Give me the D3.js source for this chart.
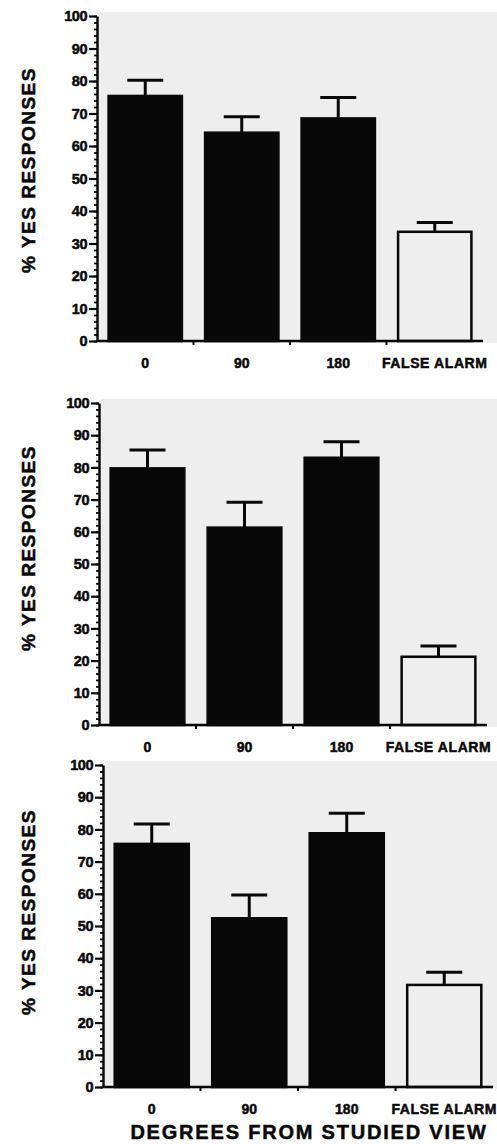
<!DOCTYPE html>
<meta charset="utf-8">
<script src="https://d3js.org/d3.v7.min.js"></script>
<style>
body { margin: 0; background: #fff; }
svg { display: block; }
text { font-family: "Liberation Sans", Arial, sans-serif; font-weight: bold; fill: #080808; stroke: #080808; stroke-width: 0.5px; }
</style>
<body>
</body>
<script>

// categories on the x axis, tick values on the y axis
var categories = ["0", "90", "180", "FALSE ALARM"];
var yTicks = [0, 10, 20, 30, 40, 50, 60, 70, 80, 90, 100];
var yMinorTicks = d3.range(0, 101, 2);

// % yes responses (mean) and error bar (+SE) for each panel
var panel1Mean = [75.4, 64.1, 68.5, 33.6];
var panel1Err  = [4.8, 4.9, 6.4, 2.9];
var panel2Mean = [79.7, 61.3, 83.0, 21.2];
var panel2Err  = [5.7, 7.9, 5.0, 3.3];
var panel3Mean = [75.5, 52.4, 78.8, 31.7];
var panel3Err  = [6.2, 7.2, 6.2, 3.9];

var width = 497;
var height = 1144;
var ink = "#080808";

var svg = d3.select("body").append("svg")
  .attr("width", width)
  .attr("height", height);

// the scanned panels sit a little differently on the page
var panels = [
  { mean: panel1Mean, err: panel1Err, left: 97,  right: 483, top: 16,  bottom: 341,  labelY: 170 },
  { mean: panel2Mean, err: panel2Err, left: 99,  right: 487, top: 403, bottom: 725,  labelY: 548 },
  { mean: panel3Mean, err: panel3Err, left: 103, right: 493, top: 765, bottom: 1087, labelY: 912 }
];

panels.forEach(function(p) {
  var x = d3.scaleBand()
    .domain(categories)
    .range([p.left, p.right])
    .paddingInner(0.24)
    .paddingOuter(0.12);

  var y = d3.scaleLinear()
    .domain([0, 100])
    .range([p.bottom, p.top]);

  var g = svg.append("g");

  // greyish paper behind the plot
  g.append("rect")
    .attr("x", p.left + 2)
    .attr("y", p.top - 4)
    .attr("width", width - p.left)
    .attr("height", p.bottom - p.top + 6)
    .attr("fill", "#eeeeee");

  var rows = categories.map(function(c, i) {
    return { cat: c, mean: p.mean[i], err: p.err[i] };
  });

  // error bars (drawn first, bars cover the lower part)
  var eb = g.selectAll(".err").data(rows).enter().append("g")
    .attr("class", "err")
    .attr("stroke", ink)
    .attr("stroke-width", 3);

  eb.append("line")
    .attr("x1", function(d) { return x(d.cat) + x.bandwidth() / 2; })
    .attr("x2", function(d) { return x(d.cat) + x.bandwidth() / 2; })
    .attr("y1", function(d) { return y(d.mean); })
    .attr("y2", function(d) { return y(d.mean + d.err); });

  eb.append("line")
    .attr("x1", function(d) { return x(d.cat) + x.bandwidth() / 2 - 18; })
    .attr("x2", function(d) { return x(d.cat) + x.bandwidth() / 2 + 18; })
    .attr("y1", function(d) { return y(d.mean + d.err); })
    .attr("y2", function(d) { return y(d.mean + d.err); });

  // bars
  g.selectAll(".bar").data(rows).enter().append("rect")
    .attr("class", "bar")
    .attr("x", function(d) { return x(d.cat); })
    .attr("y", function(d) { return y(d.mean); })
    .attr("width", x.bandwidth())
    .attr("height", function(d) { return y(0) - y(d.mean); })
    .attr("fill", function(d) { return d.cat == "FALSE ALARM" ? "#eeeeee" : ink; })
    .attr("stroke", ink)
    .attr("stroke-width", 2.5);

  // y axis: minor ticks every 2, major every 10
  var minor = g.append("g")
    .attr("transform", "translate(" + p.left + ",0)")
    .call(d3.axisLeft(y).tickValues(yMinorTicks).tickSize(3).tickSizeOuter(0).tickFormat(""));
  minor.select(".domain").remove();
  minor.selectAll("line").attr("stroke", ink).attr("stroke-width", 1.8);

  var major = g.append("g")
    .attr("transform", "translate(" + p.left + ",0)")
    .call(d3.axisLeft(y).tickValues(yTicks).tickSize(8).tickSizeOuter(0).tickPadding(2));
  major.select(".domain").attr("stroke", ink).attr("stroke-width", 2.5);
  major.selectAll("line").attr("stroke", ink).attr("stroke-width", 2.2);
  major.selectAll("text")
    .style("font-size", "14.5px")
    .style("letter-spacing", "-0.5px")
    .attr("fill", ink);

  // x axis line with small ticks between categories
  var step = x.step();
  g.append("line")
    .attr("x1", p.left).attr("x2", p.right)
    .attr("y1", y(0)).attr("y2", y(0))
    .attr("stroke", ink).attr("stroke-width", 2.5);

  g.selectAll(".xsep").data(categories.slice(1)).enter().append("line")
    .attr("class", "xsep")
    .attr("x1", function(c) { return x(c) - (step - x.bandwidth()) / 2; })
    .attr("x2", function(c) { return x(c) - (step - x.bandwidth()) / 2; })
    .attr("y1", y(0)).attr("y2", y(0) + 4)
    .attr("stroke", ink).attr("stroke-width", 2);

  var xa = g.append("g")
    .attr("transform", "translate(0," + y(0) + ")")
    .call(d3.axisBottom(x).tickSize(0).tickPadding(17));
  xa.select(".domain").remove();
  xa.selectAll("text")
    .style("font-size", "14px")
    .style("letter-spacing", function(d) { return d == "FALSE ALARM" ? "0.6px" : "0px"; })
    .attr("fill", ink);

  // y title
  g.append("text")
    .attr("transform", "translate(35," + p.labelY + ") rotate(-90)")
    .attr("text-anchor", "middle")
    .style("font-size", "19px")
    .style("letter-spacing", "1.5px")
    .text("% YES RESPONSES");
});

svg.append("text")
  .attr("x", 309)
  .attr("y", 1139)
  .attr("text-anchor", "middle")
  .style("font-size", "20px")
  .style("letter-spacing", "1.8px")
  .text("DEGREES FROM STUDIED VIEW");

</script>
